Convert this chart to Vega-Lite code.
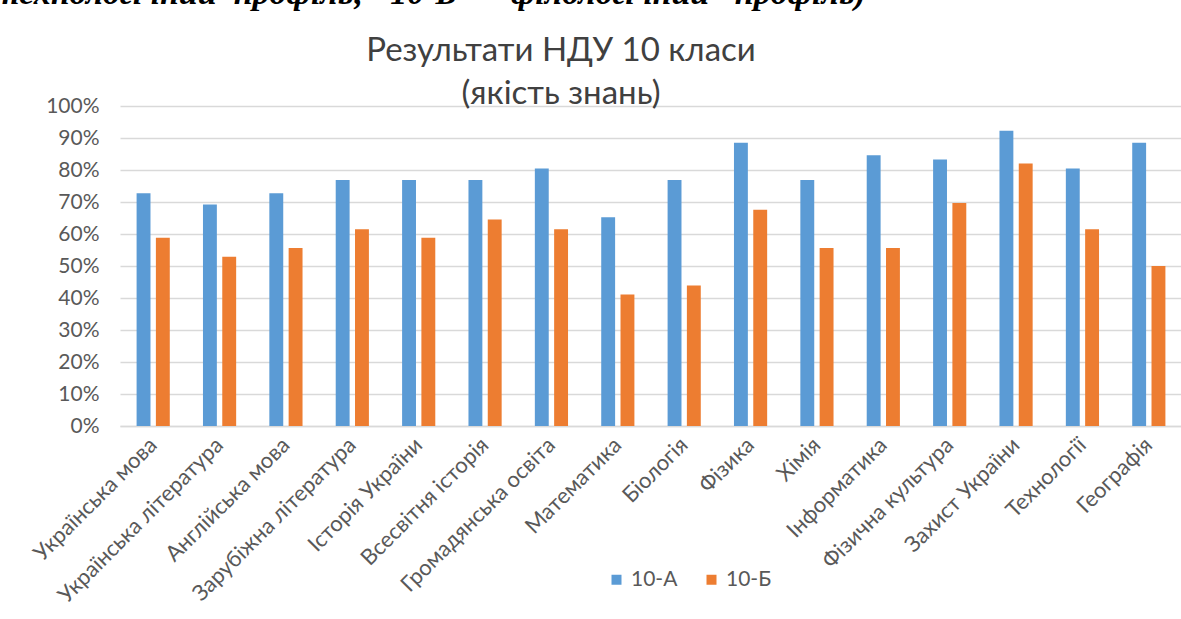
{
  "$schema": "https://vega.github.io/schema/vega-lite/v6.json",
  "background": "white",
  "padding": {"left": -7, "top": -23, "right": 0, "bottom": 0},
  "title": {
    "text": "технологічний\u00a0 профіль;\u00a0\u00a0 10-Б\u00a0 -\u00a0\u00a0 філологічний\u00a0\u00a0 профіль)",
    "font": "Liberation Serif",
    "fontSize": 34,
    "fontStyle": "italic",
    "fontWeight": "bold",
    "color": "#000000",
    "anchor": "start",
    "frame": "group",
    "dx": -127,
    "offset": 24
  },
  "vconcat": [
    {
      "title": {
        "text": ["Результати НДУ 10 класи", "(якість знань)"],
        "font": "Lato",
        "fontSize": 33,
        "fontWeight": "normal",
        "color": "#404040",
        "lineHeight": 43,
        "anchor": "middle",
        "frame": "group",
        "dx": -90,
        "offset": -16
      },
      "width": 1062,
      "height": 320,
      "data": {
        "values": [
          {"subject": "Українська мова", "class": "10-А", "value": 0.727},
          {"subject": "Українська мова", "class": "10-Б", "value": 0.588},
          {"subject": "Українська література", "class": "10-А", "value": 0.692},
          {"subject": "Українська література", "class": "10-Б", "value": 0.529},
          {"subject": "Англійська мова", "class": "10-А", "value": 0.727},
          {"subject": "Англійська мова", "class": "10-Б", "value": 0.556},
          {"subject": "Зарубіжна література", "class": "10-А", "value": 0.769},
          {"subject": "Зарубіжна література", "class": "10-Б", "value": 0.615},
          {"subject": "Історія України", "class": "10-А", "value": 0.769},
          {"subject": "Історія України", "class": "10-Б", "value": 0.588},
          {"subject": "Всесвітня історія", "class": "10-А", "value": 0.769},
          {"subject": "Всесвітня історія", "class": "10-Б", "value": 0.645},
          {"subject": "Громадянська освіта", "class": "10-А", "value": 0.805},
          {"subject": "Громадянська освіта", "class": "10-Б", "value": 0.615},
          {"subject": "Математика", "class": "10-А", "value": 0.652},
          {"subject": "Математика", "class": "10-Б", "value": 0.411},
          {"subject": "Біологія", "class": "10-А", "value": 0.769},
          {"subject": "Біологія", "class": "10-Б", "value": 0.439},
          {"subject": "Фізика", "class": "10-А", "value": 0.885},
          {"subject": "Фізика", "class": "10-Б", "value": 0.676},
          {"subject": "Хімія", "class": "10-А", "value": 0.769},
          {"subject": "Хімія", "class": "10-Б", "value": 0.556},
          {"subject": "Інформатика", "class": "10-А", "value": 0.846},
          {"subject": "Інформатика", "class": "10-Б", "value": 0.556},
          {"subject": "Фізична культура", "class": "10-А", "value": 0.833},
          {"subject": "Фізична культура", "class": "10-Б", "value": 0.697},
          {"subject": "Захист України", "class": "10-А", "value": 0.923},
          {"subject": "Захист України", "class": "10-Б", "value": 0.82},
          {"subject": "Технології", "class": "10-А", "value": 0.805},
          {"subject": "Технології", "class": "10-Б", "value": 0.615},
          {"subject": "Географія", "class": "10-А", "value": 0.885},
          {"subject": "Географія", "class": "10-Б", "value": 0.5}
        ]
      },
      "mark": {"type": "bar"},
      "encoding": {
        "x": {
          "field": "subject",
          "type": "nominal",
          "sort": null,
          "scale": {"paddingInner": 0.5, "paddingOuter": 0.25},
          "axis": {
            "title": null,
            "labelAngle": -45,
            "labelAlign": "right",
            "labelBaseline": "middle",
            "labelPadding": 15,
            "labelFont": "Lato",
            "labelFontSize": 22,
            "labelColor": "#595959",
            "ticks": false,
            "domain": true,
            "domainColor": "#d9d9d9",
            "domainWidth": 1.5,
            "labelOverlap": false,
            "labelLimit": 400
          }
        },
        "xOffset": {"field": "class", "type": "nominal", "scale": {"paddingInner": 0.28}},
        "y": {
          "field": "value",
          "type": "quantitative",
          "scale": {"domain": [0, 1], "nice": false},
          "axis": {
            "title": null,
            "format": ".0%",
            "values": [0, 0.1, 0.2, 0.3, 0.4, 0.5, 0.6, 0.7, 0.8, 0.9, 1],
            "labelFont": "Lato",
            "labelFontSize": 21,
            "labelColor": "#595959",
            "labelPadding": 21,
            "ticks": false,
            "domain": false,
            "grid": true,
            "gridColor": "#d9d9d9",
            "gridWidth": 1.5
          }
        },
        "color": {
          "field": "class",
          "type": "nominal",
          "scale": {"domain": ["10-А", "10-Б"], "range": ["#5B9BD5", "#ED7D31"]},
          "legend": {
            "title": null,
            "orient": "none",
            "legendX": 486,
            "legendY": 463,
            "direction": "horizontal",
            "symbolType": "square",
            "symbolSize": 100,
            "symbolStrokeWidth": 0,
            "labelFont": "Lato",
            "labelFontSize": 21,
            "labelColor": "#595959",
            "labelOffset": 4,
            "columnPadding": 23,
            "padding": 0
          }
        }
      }
    }
  ],
  "config": {
    "view": {"stroke": null},
    "concat": {"spacing": 0}
  }
}
